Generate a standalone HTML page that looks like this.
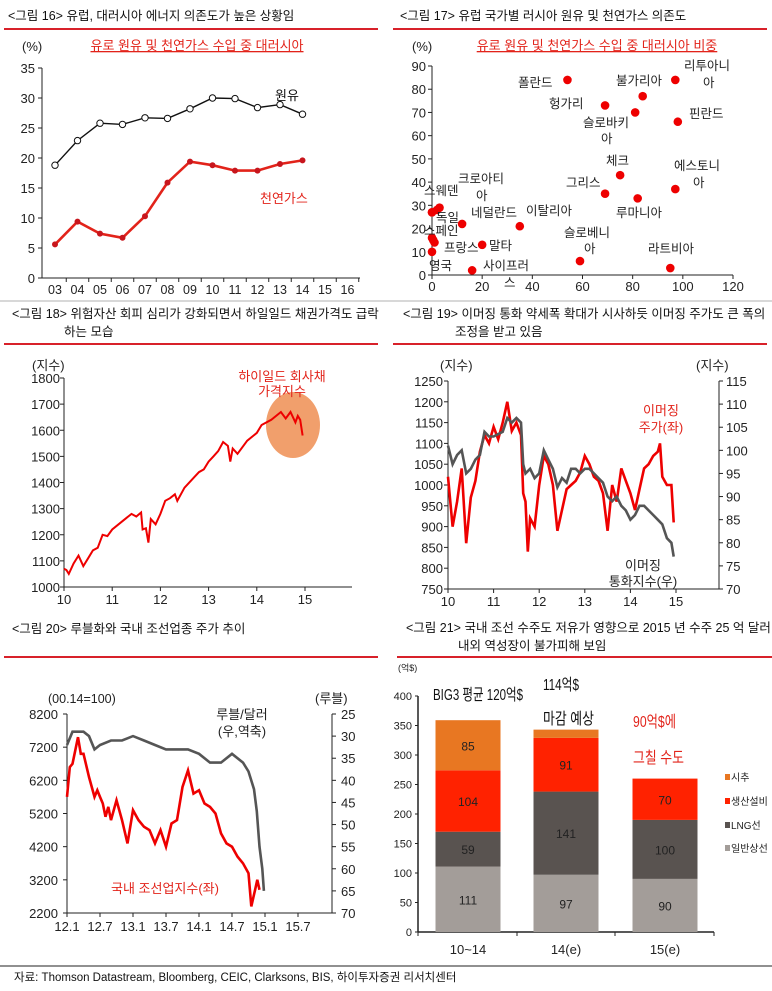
<!DOCTYPE html>
<html><head><meta charset="utf-8">
<style>
html,body{margin:0;padding:0;background:#fff;}
svg{display:block;font-family:"Liberation Sans","Noto Sans CJK KR",sans-serif;}
</style></head>
<body>
<svg id="s" width="772" height="991" viewBox="0 0 772 991">
<g font-size="12.5" fill="#111">
<text x="8" y="20">&lt;그림 16&gt; 유럽, 대러시아 에너지 의존도가 높은 상황임</text>
<line x1="4" y1="29" x2="378" y2="29" stroke="#d8212a" stroke-width="2"/>
<text x="400" y="20">&lt;그림 17&gt; 유럽 국가별 러시아 원유 및 천연가스 의존도</text>
<line x1="393" y1="29" x2="767" y2="29" stroke="#d8212a" stroke-width="2"/>
<text x="12" y="318">&lt;그림 18&gt; 위험자산 회피 심리가 강화되면서 하일일드 채권가격도 급락</text>
<text x="64" y="336">하는 모습</text>
<line x1="4" y1="344" x2="378" y2="344" stroke="#d8212a" stroke-width="2"/>
<text x="403" y="318">&lt;그림 19&gt; 이머징 통화 약세폭 확대가 시사하듯 이머징 주가도 큰 폭의</text>
<text x="455" y="336">조정을 받고 있음</text>
<line x1="393" y1="344" x2="767" y2="344" stroke="#d8212a" stroke-width="2"/>
<text x="12" y="633">&lt;그림 20&gt; 루블화와 국내 조선업종 주가 추이</text>
<line x1="4" y1="657" x2="378" y2="657" stroke="#d8212a" stroke-width="2"/>
<text x="406" y="632">&lt;그림 21&gt; 국내 조선 수주도 저유가 영향으로 2015 년 수주 25 억 달러</text>
<text x="458" y="650">내외 역성장이 불가피해 보임</text>
<line x1="397" y1="657" x2="772" y2="657" stroke="#d8212a" stroke-width="2"/>
<line x1="0" y1="301" x2="772" y2="301" stroke="#999" stroke-width="0.8"/>
<line x1="0" y1="966" x2="772" y2="966" stroke="#222" stroke-width="1"/>
<text x="14" y="981" font-size="11.5">자료: Thomson Datastream, Bloomberg, CEIC, Clarksons, BIS, 하이투자증권 리서치센터</text>
</g>
<g id="c16"></g>
<g id="c17"></g>
<g id="c18"></g>
<g id="c19"></g>
<g id="c20"></g>
<g id="c21"></g>
</svg>
<script>
// ---- Fig 16 data
const years16 = ["03","04","05","06","07","08","09","10","11","12","13","14","15","16"];
const oil16 = [18.8,22.9,25.8,25.6,26.7,26.6,28.2,30.0,29.9,28.4,28.9,27.3];
const gas16 = [5.6,9.4,7.4,6.7,10.3,15.9,19.4,18.8,17.9,17.9,19.0,19.6];
const yTicks16 = [0,5,10,15,20,25,30,35];
// ---- Fig 17 data
const xVals17 = [54,84,97,69,81,98,75,69,82,97,12,3,2,35,0,1,20,16,59,95,0,0,0,0.5];
const yVals17 = [84,77,84,73,70,66,43,35,33,37,22,29,28,21,16,14,13,2,6,3,10,27,27,15];
const xTicks17 = [0,20,40,60,80,100,120];
const yTicks17 = [0,10,20,30,40,50,60,70,80,90];
// ---- Fig 18 data
const t18 = [2010.0,2010.05,2010.1,2010.2,2010.3,2010.4,2010.5,2010.6,2010.7,2010.8,2010.9,2011.0,2011.2,2011.4,2011.5,2011.6,2011.63,2011.7,2011.75,2011.8,2011.9,2012.0,2012.1,2012.2,2012.3,2012.35,2012.5,2012.7,2012.8,2012.9,2013.0,2013.1,2013.2,2013.3,2013.4,2013.45,2013.5,2013.6,2013.8,2014.0,2014.1,2014.3,2014.5,2014.6,2014.7,2014.8,2014.85,2014.9,2014.95];
const v18 = [1070,1065,1050,1090,1120,1080,1110,1140,1150,1200,1195,1220,1250,1280,1270,1285,1220,1225,1170,1260,1240,1280,1330,1340,1355,1330,1380,1420,1440,1450,1480,1500,1520,1555,1540,1480,1530,1510,1560,1590,1620,1640,1670,1645,1670,1630,1655,1640,1580];
const xTicks18 = ["10","11","12","13","14","15"];
const yTicks18 = [1000,1100,1200,1300,1400,1500,1600,1700,1800];
// ---- Fig 19 data
const t19r = [2010.0,2010.1,2010.2,2010.3,2010.4,2010.5,2010.6,2010.7,2010.8,2010.9,2011.0,2011.1,2011.2,2011.3,2011.4,2011.5,2011.6,2011.65,2011.7,2011.75,2011.8,2011.9,2012.0,2012.1,2012.2,2012.3,2012.4,2012.5,2012.6,2012.7,2012.8,2012.9,2013.0,2013.1,2013.2,2013.3,2013.4,2013.5,2013.6,2013.7,2013.8,2013.9,2014.0,2014.1,2014.2,2014.3,2014.4,2014.5,2014.6,2014.65,2014.7,2014.8,2014.9,2014.95];
const v19r = [1020,900,960,1040,860,970,1010,1080,1120,1100,1140,1110,1150,1200,1130,1150,1120,980,960,840,920,900,1000,1070,1050,1000,890,940,990,1000,1010,1030,1070,1050,1020,1010,980,890,1000,960,1040,1010,980,940,990,1040,1050,1070,1080,1100,1020,1000,1000,910];
const t19g = [2010.0,2010.1,2010.2,2010.3,2010.4,2010.5,2010.6,2010.7,2010.8,2010.9,2011.0,2011.2,2011.3,2011.4,2011.5,2011.6,2011.65,2011.7,2011.8,2011.9,2012.0,2012.1,2012.2,2012.3,2012.4,2012.5,2012.6,2012.7,2012.8,2012.9,2013.0,2013.1,2013.2,2013.3,2013.4,2013.5,2013.6,2013.7,2013.8,2013.9,2014.0,2014.1,2014.2,2014.3,2014.4,2014.5,2014.6,2014.7,2014.8,2014.9,2014.95];
const v19g = [101,97,99,100,95,96,98,99,104,103,103,104,107,106,107,106,97,95,96,94,95,100,98,96,92,94,93,96,96,95,96,96,95,94,93,90,89,90,88,87,85,86,88,88,87,86,85,84,81,80,77];
const xTicks19 = ["10","11","12","13","14","15"];
const yTicks19L = [750,800,850,900,950,1000,1050,1100,1150,1200,1250];
const yTicks19R = [70,75,80,85,90,95,100,105,110,115];
// ---- Fig 20 data (months from 2012.1)
const m20r = [0,0.5,1,2,2.5,3,4,5,5.5,6,6.5,7,7.5,8,9,10,11,12,13,14,15,16,17,18,19,20,21,22,23,24,25,26,27,28,29,30,31,32,33,33.5,34.2,34.6,35];
const v20r = [5700,6600,6700,7500,7000,7000,6300,5700,5900,5700,5500,5100,5400,5000,5600,5000,4300,5300,5000,4800,4700,4300,4700,4200,4900,5000,6000,6500,5800,5900,5500,5400,5200,4600,4300,4200,3900,3700,3400,2400,2900,3200,2900];
const m20g = [0,1,3,4,5,6,8,10,12,14,16,18,20,22,24,26,28,30,32,33,34,34.5,35,35.5,35.8];
const v20g = [32,29,29,30,33,32,31,31,30,31,32,33,33,33,34,36,36,34,36,38,42,47,55,60,65];
const xTicks20 = ["12.1","12.7","13.1","13.7","14.1","14.7","15.1","15.7"];
const yTicks20L = [2200,3200,4200,5200,6200,7200,8200];
const yTicks20R = [25,30,35,40,45,50,55,60,65,70];
// ---- Fig 21 data
const cats21 = ["10~14","14(e)","15(e)"];
const general21 = [111,97,90];
const lng21 = [59,141,100];
const plant21 = [104,91,70];
const drill21 = [85,14,0];
const yTicks21 = [0,50,100,150,200,250,300,350,400];

const NS="http://www.w3.org/2000/svg";
function mk(parent,tag,attrs,txt){const e=document.createElementNS(NS,tag);for(const k in attrs)e.setAttribute(k,attrs[k]);if(txt!==undefined)e.textContent=txt;parent.appendChild(e);return e;}
function pathD(xs,ys,fx,fy){return xs.map((x,i)=>(i?"L":"M")+fx(x).toFixed(1)+","+fy(ys[i]).toFixed(1)).join("");}

// ===== Fig 16
(function(){
 const g=document.getElementById('c16');
 const X0=42,X1=360,yb=278,yt=68;
 const fy=v=>yb-(v/35)*(yb-yt);
 const fx=i=>55+i*22.5;
 mk(g,'line',{x1:X0,y1:yt,x2:X0,y2:yb,stroke:'#222'});
 mk(g,'line',{x1:X0,y1:yb,x2:X1,y2:yb,stroke:'#222'});
 yTicks16.forEach(v=>{mk(g,'line',{x1:X0-4,y1:fy(v),x2:X0,y2:fy(v),stroke:'#222'});
  const t=mk(g,'text',{x:X0-7,y:fy(v)+5,'font-size':13,'text-anchor':'end',fill:'#222'},v);
  });
 years16.forEach((y,i)=>{mk(g,'line',{x1:fx(i)+11.25,y1:yb,x2:fx(i)+11.25,y2:yb+4,stroke:'#222'});
  const t=mk(g,'text',{x:fx(i),y:yb+16,'font-size':12.5,'text-anchor':'middle',fill:'#222'},y);
  });
 mk(g,'text',{x:22,y:51,'font-size':13,fill:'#222'},'(%)');
 mk(g,'text',{x:197,y:50,'font-size':13,'text-anchor':'middle',fill:'#e2231a','text-decoration':'underline'},'유로 원유 및 천연가스 수입 중 대러시아');
 const idx=oil16.map((_,i)=>i);
 const po=mk(g,'path',{d:pathD(idx,oil16,fx,fy),fill:'none',stroke:'#111','stroke-width':1.4});
 
 oil16.forEach((v,i)=>{const c=mk(g,'circle',{cx:fx(i),cy:fy(v),r:3.2,fill:'#fff',stroke:'#111','stroke-width':1});});
 const pg=mk(g,'path',{d:pathD(idx,gas16,fx,fy),fill:'none',stroke:'#e2231a','stroke-width':2.6});
 
 gas16.forEach((v,i)=>{const c=mk(g,'circle',{cx:fx(i),cy:fy(v),r:3,fill:'#c8161d'});});
 mk(g,'text',{x:275,y:100,'font-size':13,fill:'#111'},'원유');
 mk(g,'text',{x:260,y:203,'font-size':13,fill:'#e2231a'},'천연가스');
})();

// ===== Fig 17
(function(){
 const g=document.getElementById('c17');
 const X0=432,X1=733,yb=275,yt=66;
 const fx=v=>X0+v/120*(X1-X0), fy=v=>yb-v/90*(yb-yt);
 mk(g,'line',{x1:X0,y1:yt,x2:X0,y2:yb,stroke:'#222'});
 mk(g,'line',{x1:X0,y1:yb,x2:X1,y2:yb,stroke:'#222'});
 yTicks17.forEach(v=>{mk(g,'line',{x1:X0-4,y1:fy(v),x2:X0,y2:fy(v),stroke:'#222'});
  const t=mk(g,'text',{x:X0-6,y:fy(v)+5,'font-size':13,'text-anchor':'end',fill:'#222'},v);
  });
 xTicks17.forEach(v=>{mk(g,'line',{x1:fx(v),y1:yb,x2:fx(v),y2:yb+4,stroke:'#222'});
  const t=mk(g,'text',{x:fx(v),y:yb+16,'font-size':13,'text-anchor':'middle',fill:'#222'},v);
  });
 mk(g,'text',{x:412,y:51,'font-size':13,fill:'#222'},'(%)');
 mk(g,'text',{x:597,y:50,'font-size':13,'text-anchor':'middle',fill:'#e2231a','text-decoration':'underline'},'유로 원유 및 천연가스 수입 중 대러시아 비중');
 xVals17.forEach((x,i)=>{const c=mk(g,'circle',{cx:fx(x),cy:fy(yVals17[i]),r:4.3,fill:'#e00'});
  });
 const labels=[["폴란드",518,87],["리투아니",684,70],["아",703,87],["불가리아",616,85],["헝가리",549,108],["슬로바키",583,127],["아",601,143],["핀란드",689,118],["체크",606,165],["에스토니",674,170],["아",693,187],["그리스",566,187],["루마니아",616,217],["크로아티",458,183],["아",476,200],["스웨덴",424,195],["독일",436,222],["네덜란드",471,217],["이탈리아",526,215],["스페인",424,235],["프랑스",444,252],["말타",489,250],["슬로베니",564,237],["아",584,253],["라트비아",648,253],["영국",429,270],["사이프러",483,270],["스",504,287]];
 labels.forEach(l=>{const t=mk(g,'text',{x:l[1],y:l[2],'font-size':12.5,fill:'#222'},l[0]);});
})();

// ===== Fig 18
(function(){
 const g=document.getElementById('c18');
 const X0=64,X1=352,yb=587,yt=378;
 const fx=t=>X0+(t-2010)*48.2, fy=v=>yb-(v-1000)/800*(yb-yt);
 mk(g,'line',{x1:X0,y1:yt,x2:X0,y2:yb,stroke:'#222'});
 mk(g,'line',{x1:X0,y1:yb,x2:X1,y2:yb,stroke:'#222'});
 yTicks18.forEach(v=>{mk(g,'line',{x1:X0-4,y1:fy(v),x2:X0,y2:fy(v),stroke:'#222'});
  const t=mk(g,'text',{x:X0-4,y:fy(v)+5,'font-size':13,'text-anchor':'end',fill:'#222'},v);
  });
 xTicks18.forEach((l,i)=>{mk(g,'line',{x1:fx(2010+i),y1:yb,x2:fx(2010+i),y2:yb+4,stroke:'#222'});
  const t=mk(g,'text',{x:fx(2010+i),y:yb+17,'font-size':13,'text-anchor':'middle',fill:'#222'},l);
  });
 mk(g,'text',{x:32,y:370,'font-size':13,fill:'#222'},'(지수)');
 const e=mk(g,'ellipse',{cx:293,cy:425,rx:27,ry:33,fill:'#f0955c',opacity:0.9});
 
 const p=mk(g,'path',{d:pathD(t18,v18,fx,fy),fill:'none',stroke:'#e00','stroke-width':2});
 
 mk(g,'text',{x:282,y:381,'font-size':13,'text-anchor':'middle',fill:'#e2231a'},'하이일드 회사채');
 mk(g,'text',{x:282,y:396,'font-size':13,'text-anchor':'middle',fill:'#e2231a'},'가격지수');
})();

// ===== Fig 19
(function(){
 const g=document.getElementById('c19');
 const X0=448,X1=719,yb=589,yt=381;
 const fx=t=>X0+(t-2010)*45.6, fyL=v=>yb-(v-750)/500*(yb-yt), fyR=v=>yb-(v-70)/45*(yb-yt);
 mk(g,'line',{x1:X0,y1:yt,x2:X0,y2:yb,stroke:'#222'});
 mk(g,'line',{x1:X1,y1:yt,x2:X1,y2:yb,stroke:'#222'});
 mk(g,'line',{x1:X0,y1:yb,x2:X1,y2:yb,stroke:'#222'});
 yTicks19L.forEach(v=>{mk(g,'line',{x1:X0-4,y1:fyL(v),x2:X0,y2:fyL(v),stroke:'#222'});
  const t=mk(g,'text',{x:X0-5,y:fyL(v)+5,'font-size':13,'text-anchor':'end',fill:'#222'},v);
  });
 yTicks19R.forEach(v=>{mk(g,'line',{x1:X1,y1:fyR(v),x2:X1+4,y2:fyR(v),stroke:'#222'});
  const t=mk(g,'text',{x:X1+7,y:fyR(v)+5,'font-size':13,fill:'#222'},v);
  });
 xTicks19.forEach((l,i)=>{mk(g,'line',{x1:fx(2010+i),y1:yb,x2:fx(2010+i),y2:yb+4,stroke:'#222'});
  const t=mk(g,'text',{x:fx(2010+i),y:yb+17,'font-size':13,'text-anchor':'middle',fill:'#222'},l);
  });
 mk(g,'text',{x:440,y:370,'font-size':13,fill:'#222'},'(지수)');
 mk(g,'text',{x:696,y:370,'font-size':13,fill:'#222'},'(지수)');
 const pr=mk(g,'path',{d:pathD(t19r,v19r,fx,fyL),fill:'none',stroke:'#e00','stroke-width':2.6});
 
 const pg=mk(g,'path',{d:pathD(t19g,v19g,fx,fyR),fill:'none',stroke:'#555','stroke-width':2.6});
 
 mk(g,'text',{x:661,y:415,'font-size':13,'text-anchor':'middle',fill:'#e2231a'},'이머징');
 mk(g,'text',{x:661,y:432,'font-size':13,'text-anchor':'middle',fill:'#e2231a'},'주가(좌)');
 mk(g,'text',{x:643,y:570,'font-size':13,'text-anchor':'middle',fill:'#222'},'이머징');
 mk(g,'text',{x:643,y:586,'font-size':13,'text-anchor':'middle',fill:'#222'},'통화지수(우)');
})();

// ===== Fig 20
(function(){
 const g=document.getElementById('c20');
 const X0=67,X1=332,yb=913,yt=714;
 const fx=m=>X0+m*5.5, fyL=v=>yb-(v-2200)/6000*(yb-yt), fyR=v=>yt+(v-25)/45*(yb-yt);
 mk(g,'line',{x1:X0,y1:yt,x2:X0,y2:yb,stroke:'#222'});
 mk(g,'line',{x1:X1,y1:yt,x2:X1,y2:yb,stroke:'#222'});
 mk(g,'line',{x1:X0,y1:yb,x2:X1,y2:yb,stroke:'#222'});
 yTicks20L.forEach(v=>{mk(g,'line',{x1:X0-4,y1:fyL(v),x2:X0,y2:fyL(v),stroke:'#222'});
  const t=mk(g,'text',{x:X0-9,y:fyL(v)+5,'font-size':13,'text-anchor':'end',fill:'#222'},v);
  });
 yTicks20R.forEach(v=>{mk(g,'line',{x1:X1,y1:fyR(v),x2:X1+4,y2:fyR(v),stroke:'#222'});
  const t=mk(g,'text',{x:X1+9,y:fyR(v)+5,'font-size':13,fill:'#222'},v);
  });
 xTicks20.forEach((l,i)=>{mk(g,'line',{x1:fx(i*6),y1:yb,x2:fx(i*6),y2:yb+4,stroke:'#222'});
  const t=mk(g,'text',{x:fx(i*6),y:yb+18,'font-size':13,'text-anchor':'middle',fill:'#222'},l);
  });
 mk(g,'text',{x:48,y:703,'font-size':12.5,fill:'#222'},'(00.14=100)');
 mk(g,'text',{x:315,y:703,'font-size':13,fill:'#222'},'(루블)');
 const pg=mk(g,'path',{d:pathD(m20g,v20g,fx,fyR),fill:'none',stroke:'#555','stroke-width':2.6});
 
 const pr=mk(g,'path',{d:pathD(m20r,v20r,fx,fyL),fill:'none',stroke:'#e00','stroke-width':2.6});
 
 mk(g,'text',{x:242,y:719,'font-size':13,'text-anchor':'middle',fill:'#222'},'루블/달러');
 mk(g,'text',{x:242,y:736,'font-size':13,'text-anchor':'middle',fill:'#222'},'(우,역축)');
 mk(g,'text',{x:111,y:893,'font-size':13,fill:'#e2231a'},'국내 조선업지수(좌)');
})();

// ===== Fig 21
(function(){
 const g=document.getElementById('c21');
 const X0=418,X1=714,yb=932,yt=696;
 const fy=v=>yb-v/400*(yb-yt);
 const cx=[468,566,665], bw=65;
 mk(g,'line',{x1:X0,y1:yt,x2:X0,y2:yb,stroke:'#222','stroke-width':1.5});
 mk(g,'line',{x1:X0,y1:yb,x2:X1,y2:yb,stroke:'#222','stroke-width':1.5});
 yTicks21.forEach(v=>{mk(g,'line',{x1:X0-3,y1:fy(v),x2:X0,y2:fy(v),stroke:'#222'});
  const t=mk(g,'text',{x:X0-6,y:fy(v)+4,'font-size':11,'text-anchor':'end',fill:'#222'},v);
  });
 [418,517,615,714].forEach(x=>mk(g,'line',{x1:x,y1:yb,x2:x,y2:yb+4,stroke:'#222'}));
 mk(g,'text',{x:398,y:671,'font-size':9,fill:'#222'},'(억$)');
 const series=[[general21,'#a39d99','general-segment'],[lng21,'#595350','lng-segment'],[plant21,'#ff2200','plant-segment'],[drill21,'#e87722','drilling-segment']];
 cats21.forEach((c,i)=>{
  let base=0;
  series.forEach(s=>{const v=s[0][i];if(v>0){
    const r=mk(g,'rect',{x:cx[i]-bw/2,y:fy(base+v),width:bw,height:fy(base)-fy(base+v),fill:s[1]});
    
    if(v>20){const t=mk(g,'text',{x:cx[i],y:(fy(base)+fy(base+v))/2+5,'font-size':12,'text-anchor':'middle',fill:'#222'},v);
     }
  } base+=v;});
  const t=mk(g,'text',{x:cx[i],y:yb+22,'font-size':13,'text-anchor':'middle',fill:'#222'},c);
  
 });
 mk(g,'text',{x:433,y:700,'font-size':16,fill:'#111',textLength:90,lengthAdjust:'spacingAndGlyphs'},'BIG3 평균 120억$');
 mk(g,'text',{x:543,y:690,'font-size':16,fill:'#111',textLength:36,lengthAdjust:'spacingAndGlyphs'},'114억$');
 mk(g,'text',{x:543,y:724,'font-size':16,fill:'#111',textLength:51,lengthAdjust:'spacingAndGlyphs'},'마감 예상');
 mk(g,'text',{x:633,y:727,'font-size':16,fill:'#e2231a',textLength:43,lengthAdjust:'spacingAndGlyphs'},'90억$에');
 mk(g,'text',{x:633,y:763,'font-size':16,fill:'#e2231a',textLength:51,lengthAdjust:'spacingAndGlyphs'},'그칠 수도');
 const leg=[['시추','#e87722',781],['생산설비','#ff2200',805],['LNG선','#595350',829],['일반상선','#a39d99',852]];
 leg.forEach(l=>{const r=mk(g,'rect',{x:725,y:l[2]-7,width:5,height:6,fill:l[1]});
  const t=mk(g,'text',{x:731,y:l[2],'font-size':10,fill:'#222'},l[0]);});
})();
</script>
</body></html>
